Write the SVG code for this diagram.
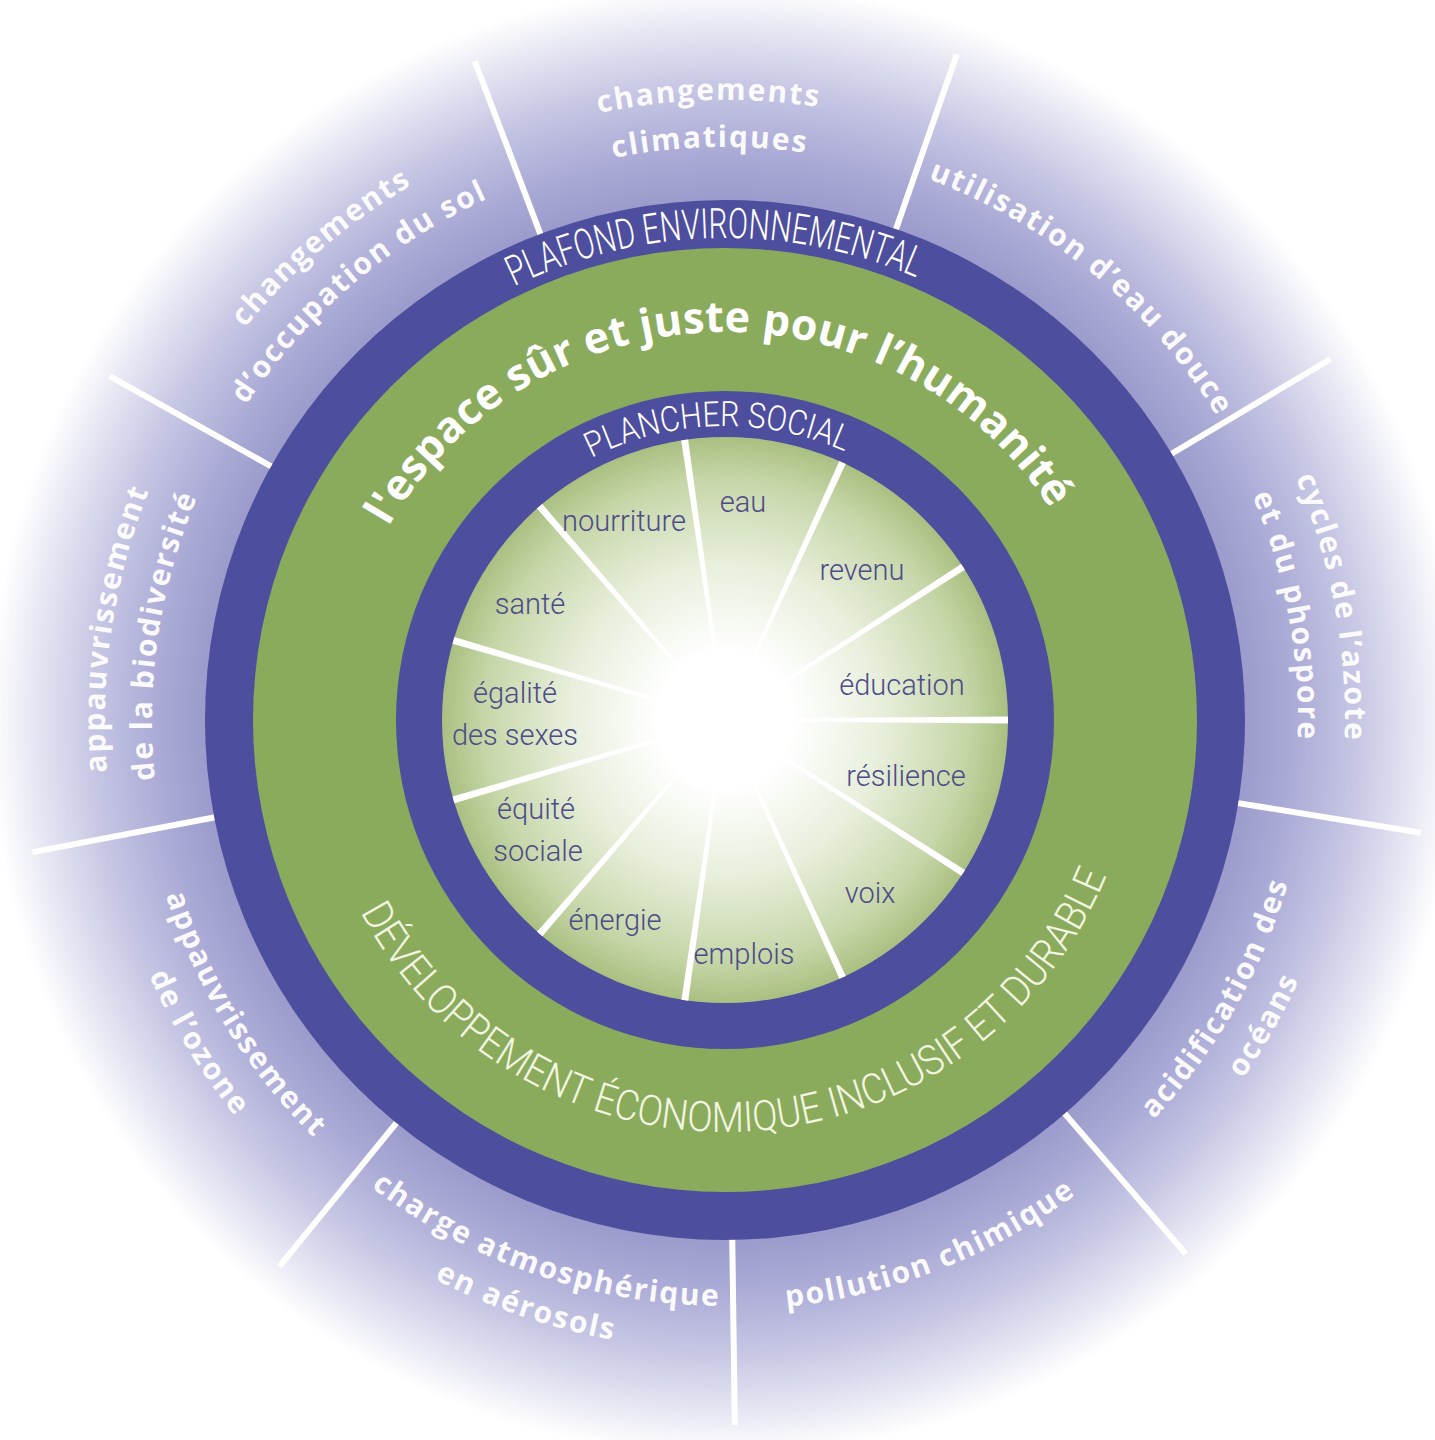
<svg xmlns="http://www.w3.org/2000/svg" width="1435" height="1440" viewBox="0 0 1435 1440">
<defs>
<radialGradient id="halo" cx="725" cy="720" r="735" gradientUnits="userSpaceOnUse">
<stop offset="0.70" stop-color="#9a9acb"/>
<stop offset="0.77" stop-color="#aaaad6"/>
<stop offset="0.86" stop-color="#c6c6e4"/>
<stop offset="0.94" stop-color="#e6e6f3"/>
<stop offset="1" stop-color="#ffffff"/>
</radialGradient>
<radialGradient id="core" cx="725" cy="720" r="284" gradientUnits="userSpaceOnUse">
<stop offset="0" stop-color="#ffffff"/>
<stop offset="0.24" stop-color="#ffffff"/>
<stop offset="0.55" stop-color="#e8efdc"/>
<stop offset="0.85" stop-color="#c6d6a8"/>
<stop offset="1" stop-color="#a9bf80"/>
</radialGradient>
<path id="t620" d="M114.42,612.34 A620,620 0 0 1 1335.58,612.34"/>
<path id="t573" d="M160.70,620.50 A573,573 0 0 1 1289.30,620.50"/>
<path id="t578" d="M155.78,619.63 A578,578 0 0 1 1294.22,619.63"/>
<path id="t388" d="M342.89,652.62 A388,388 0 0 1 1107.11,652.62"/>
<path id="t482" d="M250.32,636.30 A482,482 0 0 1 1199.68,636.30"/>
<path id="t294" d="M435.47,668.95 A294,294 0 0 1 1014.53,668.95"/>
<path id="b586" d="M147.90,821.76 A586,586 0 0 0 1302.10,821.76"/>
<path id="b630" d="M104.57,829.40 A630,630 0 0 0 1345.43,829.40"/>
<path id="b590" d="M143.96,822.45 A590,590 0 0 0 1306.04,822.45"/>
<path id="b412" d="M319.26,791.54 A412,412 0 0 0 1130.74,791.54"/>
<polygon id="ispoke" points="723.5,700 726.5,700 728.5,437 721.5,437"/>
<line id="ospoke" x1="725" y1="205" x2="725" y2="15"/>
</defs>
<style>
.ol{font-family:"Open Sans","DejaVu Sans",sans-serif;font-weight:700;font-size:30px;letter-spacing:1.8px;fill:#ffffff;fill-opacity:0.95}
.green{font-family:"Open Sans","DejaVu Sans",sans-serif;font-weight:700;font-size:43px;letter-spacing:0.3px;fill:#ffffff}
.band{font-family:Roboto,"Liberation Sans",sans-serif;font-weight:300;fill:#ffffff}
.dev{fill:#f3f6e2}
.soc{font-family:Roboto,"Liberation Sans",sans-serif;font-weight:300;font-size:29px;fill:#4c4c88;text-anchor:middle}
.ospk{stroke:#ffffff;stroke-width:6}
.ispk{fill:#ffffff}
</style>

<rect width="1435" height="1440" fill="#ffffff"/>
<circle id="halo-disk" cx="725" cy="720" r="735" fill="url(#halo)"/>

<g id="connectors">
<use href="#ospoke" class="ospk" transform="rotate(-20.8 725 720)"/>
<use href="#ospoke" class="ospk" transform="rotate(19.2 725 720)"/>
<use href="#ospoke" class="ospk" transform="rotate(59.2 725 720)"/>
<use href="#ospoke" class="ospk" transform="rotate(99.2 725 720)"/>
<use href="#ospoke" class="ospk" transform="rotate(139.2 725 720)"/>
<use href="#ospoke" class="ospk" transform="rotate(179.2 725 720)"/>
<use href="#ospoke" class="ospk" transform="rotate(219.2 725 720)"/>
<use href="#ospoke" class="ospk" transform="rotate(259.2 725 720)"/>
<use href="#ospoke" class="ospk" transform="rotate(299.2 725 720)"/>
</g>

<g id="rings">
<circle id="ceiling" cx="725" cy="720" r="520" fill="#4e4e9e"/>
<circle id="safe-space" cx="725" cy="720" r="472" fill="#8bab5c"/>
<circle id="floor" cx="725" cy="720" r="329" fill="#4e4e9e"/>
<circle id="core-disk" cx="725" cy="720" r="283" fill="url(#core)"/>
</g>

<g id="inner-spokes">
<use href="#ispoke" class="ispk" transform="rotate(-8.2 725 720)"/>
<use href="#ispoke" class="ispk" transform="rotate(24.53 725 720)"/>
<use href="#ispoke" class="ispk" transform="rotate(57.25 725 720)"/>
<use href="#ispoke" class="ispk" transform="rotate(89.98 725 720)"/>
<use href="#ispoke" class="ispk" transform="rotate(122.71 725 720)"/>
<use href="#ispoke" class="ispk" transform="rotate(155.44 725 720)"/>
<use href="#ispoke" class="ispk" transform="rotate(188.16 725 720)"/>
<use href="#ispoke" class="ispk" transform="rotate(220.89 725 720)"/>
<use href="#ispoke" class="ispk" transform="rotate(253.62 725 720)"/>
<use href="#ispoke" class="ispk" transform="rotate(286.35 725 720)"/>
<use href="#ispoke" class="ispk" transform="rotate(319.07 725 720)"/>
</g>

<g id="band-labels">
<text class="band" font-size="42" transform="rotate(-1.3 725 720)"><textPath href="#t482" startOffset="50%" text-anchor="middle" textLength="415" lengthAdjust="spacingAndGlyphs">PLAFOND ENVIRONNEMENTAL</textPath></text>
<text class="band" font-size="35" transform="rotate(-1.5 725 720)"><textPath href="#t294" startOffset="50%" text-anchor="middle" textLength="262" lengthAdjust="spacingAndGlyphs">PLANCHER SOCIAL</textPath></text>
<text class="green" transform="rotate(-1.5 725 720)"><textPath href="#t388" startOffset="50%" text-anchor="middle">l'espace sûr et juste pour l’humanité</textPath></text>
<text class="band dev" font-size="42" transform="rotate(-2.8 725 720)"><textPath href="#b412" startOffset="50%" text-anchor="middle" textLength="935" lengthAdjust="spacingAndGlyphs">DÉVELOPPEMENT ÉCONOMIQUE INCLUSIF ET DURABLE</textPath></text>
</g>

<g id="climate-change">
<text class="ol" transform="rotate(-1.5 725 720)"><textPath href="#t620" startOffset="50%" text-anchor="middle">changements</textPath></text>
<text class="ol" transform="rotate(-1.5 725 720)"><textPath href="#t573" startOffset="50%" text-anchor="middle">climatiques</textPath></text>
</g>
<g id="freshwater">
<text class="ol" transform="rotate(39.5 725 720)"><textPath href="#t578" startOffset="50%" text-anchor="middle">utilisation d’eau douce</textPath></text>
</g>
<g id="nitrogen-phosphorus">
<text class="ol" transform="rotate(79.5 725 720)"><textPath href="#t620" startOffset="50%" text-anchor="middle">cycles de l’azote</textPath></text>
<text class="ol" transform="rotate(79.5 725 720)"><textPath href="#t573" startOffset="50%" text-anchor="middle">et du phospore</textPath></text>
</g>
<g id="ocean-acidification">
<text class="ol" transform="rotate(-60.5 725 720)"><textPath href="#b586" startOffset="50%" text-anchor="middle">acidification des</textPath></text>
<text class="ol" transform="rotate(-60.5 725 720)"><textPath href="#b630" startOffset="50%" text-anchor="middle">océans</textPath></text>
</g>
<g id="chemical-pollution">
<text class="ol" transform="rotate(-21.3 725 720)"><textPath href="#b590" startOffset="50%" text-anchor="middle">pollution chimique</textPath></text>
</g>
<g id="aerosol-loading">
<text class="ol" transform="rotate(18.8 725 720)"><textPath href="#b586" startOffset="50%" text-anchor="middle">charge atmosphérique</textPath></text>
<text class="ol" transform="rotate(18.8 725 720)"><textPath href="#b630" startOffset="50%" text-anchor="middle">en aérosols</textPath></text>
</g>
<g id="ozone-depletion">
<text class="ol" transform="rotate(58.5 725 720)"><textPath href="#b586" startOffset="50%" text-anchor="middle">appauvrissement</textPath></text>
<text class="ol" transform="rotate(58.5 725 720)"><textPath href="#b630" startOffset="50%" text-anchor="middle">de l’ozone</textPath></text>
</g>
<g id="biodiversity-loss">
<text class="ol" transform="rotate(-81.5 725 720)"><textPath href="#t620" startOffset="50%" text-anchor="middle">appauvrissement</textPath></text>
<text class="ol" transform="rotate(-81.5 725 720)"><textPath href="#t573" startOffset="50%" text-anchor="middle">de la biodiversité</textPath></text>
</g>
<g id="land-conversion">
<text class="ol" transform="rotate(-40.5 725 720)"><textPath href="#t620" startOffset="50%" text-anchor="middle">changements</textPath></text>
<text class="ol" transform="rotate(-40.5 725 720)"><textPath href="#t573" startOffset="50%" text-anchor="middle">d’occupation du sol</textPath></text>
</g>

<g id="social-foundation">
<text class="soc" x="624" y="531">nourriture</text>
<text class="soc" x="743" y="512">eau</text>
<text class="soc" x="862" y="580">revenu</text>
<text class="soc" x="902" y="695">éducation</text>
<text class="soc" x="906" y="786">résilience</text>
<text class="soc" x="870" y="903">voix</text>
<text class="soc" x="744" y="964">emplois</text>
<text class="soc" x="615" y="930">énergie</text>
<text class="soc" x="536" y="819">équité</text>
<text class="soc" x="538" y="861">sociale</text>
<text class="soc" x="515" y="703">égalité</text>
<text class="soc" x="515" y="745">des sexes</text>
<text class="soc" x="530" y="614">santé</text>
</g>
</svg>
